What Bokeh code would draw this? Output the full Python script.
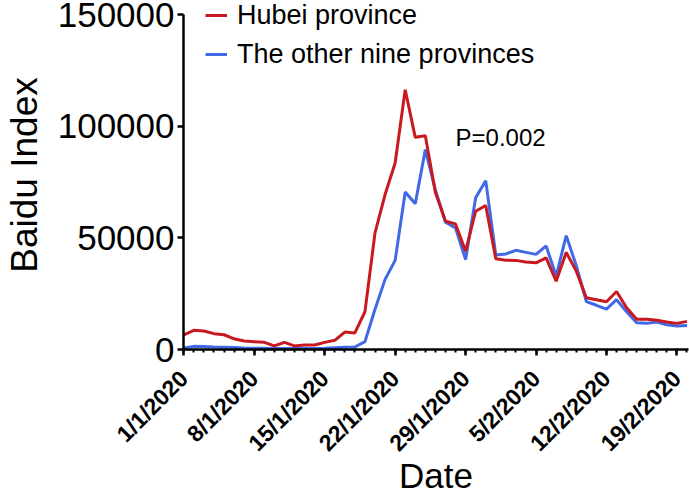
import math
import pandas as pd
from bokeh.plotting import figure
from bokeh.models import Range1d, FixedTicker, Legend, LegendItem, Label
from bokeh.embed import file_html
from bokeh.resources import INLINE

dates = pd.date_range("2020-01-01", "2020-02-20")
hubei = [6500, 8600, 8300, 7100, 6600, 4800, 3800, 3500, 3200, 1600,
         3200, 1600, 2000, 2000, 3200, 4100, 7800, 7400, 16900, 52200,
         69400, 83500, 116300, 95000, 95700, 70300, 57500, 56200, 44000, 61900,
         64500, 40600, 40000, 39900, 39200, 38800, 41000, 30600, 43500, 35100,
         23200, 22300, 21400, 26000, 18700, 13500, 13500, 13100, 12300, 11700, 12600]
others = [700, 1400, 1300, 1100, 1000, 900, 700, 600, 600, 500,
          500, 500, 500, 500, 600, 800, 1000, 1100, 3500, 18000,
          31400, 39900, 70500, 65300, 89500, 71400, 57000, 54400, 40300, 67900,
          75600, 42300, 42800, 44400, 43500, 42600, 46400, 32900, 51000, 37500,
          21400, 19800, 18100, 22300, 16900, 12000, 11700, 12300, 11100, 10500, 10800]
x_tick_labels = ["1/1/2020", "8/1/2020", "15/1/2020", "22/1/2020",
                 "29/1/2020", "5/2/2020", "12/2/2020", "19/2/2020"]
y_ticks = [0, 50000, 100000, 150000]
y_tick_labels = ["0", "50000", "100000", "150000"]
series_names = ["Hubei province", "The other nine provinces"]
x_title = "Date"
y_title = "Baidu Index"
p_text = "P=0.002"

days = [(d - dates[0]).days for d in dates]
x_ticks = days[::7]

FONT = "Liberation Sans"
RED = "#C8191F"
BLUE = "#4169E6"

# frame reaches the top edge so the legend is not clipped; the axis line stops at 150000
p = figure(width=689, height=498, output_backend="svg", toolbar_location=None,
           x_range=Range1d(-0.03, 50.15), y_range=Range1d(0, 156270),
           min_border_left=183, min_border_right=1, min_border_top=0, min_border_bottom=149)
p.outline_line_color = None
p.grid.visible = False

r_blue = p.line(days, others, line_color=BLUE, line_width=3)
r_red = p.line(days, hubei, line_color=RED, line_width=3)

legend = Legend(items=[LegendItem(label=series_names[0], renderers=[r_red]),
                       LegendItem(label=series_names[1], renderers=[r_blue])],
                location=(22, 278))
legend.border_line_color = None
legend.background_fill_alpha = 0
legend.padding = 0
legend.margin = 0
legend.spacing = 5
legend.glyph_width = 22
legend.glyph_height = 34
legend.label_height = 34
legend.label_standoff = 10
legend.label_text_font = FONT
legend.label_text_font_size = "27px"
legend.label_text_color = "black"
p.add_layout(legend, "center")

p.add_layout(Label(x=27.0, y=94900, text=p_text, text_font=FONT, text_font_size="24px",
                   text_baseline="middle", text_align="left", text_color="black"))

xa = p.xaxis[0]
xa.ticker = FixedTicker(ticks=x_ticks, minor_ticks=days)
xa.major_label_overrides = {t: l for t, l in zip(x_ticks, x_tick_labels)}
xa.major_label_orientation = math.pi / 4
xa.major_label_text_font = FONT
xa.major_label_text_font_style = "bold"
xa.major_label_text_font_size = "23px"
xa.major_label_text_color = "black"
xa.major_label_standoff = 19
xa.axis_label = x_title
xa.axis_label_text_font = FONT
xa.axis_label_text_font_style = "normal"
xa.axis_label_text_font_size = "35px"
xa.axis_label_text_color = "black"
xa.axis_label_text_line_height = 0.6
xa.axis_label_standoff = -12

ya = p.yaxis[0]
ya.bounds = (0, 150000)
ya.ticker = FixedTicker(ticks=y_ticks, minor_ticks=[])
ya.major_label_overrides = {t: l for t, l in zip(y_ticks, y_tick_labels)}
ya.major_label_text_font = FONT
ya.major_label_text_font_size = "35px"
ya.major_label_text_color = "black"
ya.major_label_standoff = 3
ya.axis_label = y_title
ya.axis_label_text_font = FONT
ya.axis_label_text_font_style = "normal"
ya.axis_label_text_font_size = "37px"
ya.axis_label_text_color = "black"
ya.axis_label_standoff = 10

for ax in (xa, ya):
    ax.axis_line_width = 2.5
    ax.axis_line_color = "black"
    ax.major_tick_line_width = 2.5
    ax.major_tick_line_color = "black"
    ax.major_tick_in = 0
    ax.major_tick_out = 6
    ax.minor_tick_line_width = 2
    ax.minor_tick_line_color = "black"
    ax.minor_tick_in = 0
    ax.minor_tick_out = 3

open("out.html", "w").write(file_html(p, INLINE))
